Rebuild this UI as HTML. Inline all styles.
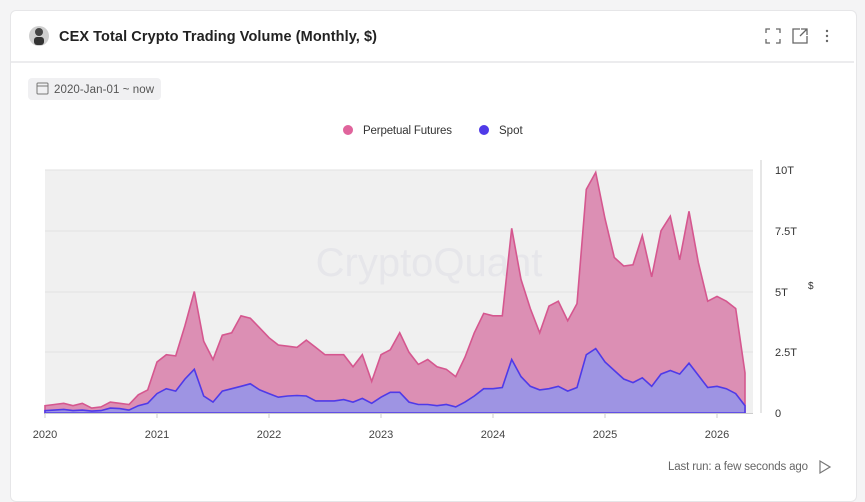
<!DOCTYPE html>
<html><head><meta charset="utf-8"><style>
body{margin:0;background:#f4f4f5;width:865px;height:492px;overflow:hidden;font-family:"Liberation Sans",sans-serif;}
.card{position:absolute;left:10px;top:10px;width:845px;height:490px;background:#fff;border:1px solid #e6e6e8;border-radius:6px;}
</style></head><body>
<div class="card"></div>
<svg width="865" height="492" style="position:absolute;left:0;top:0">
<line x1="11" y1="62" x2="854" y2="62" stroke="#ececee" stroke-width="2"/>
<circle cx="39" cy="36" r="10" fill="#cfcfcf"/><circle cx="39" cy="32" r="4" fill="#444"/><rect x="34" y="37" width="10" height="8" rx="3" fill="#333"/>
<text x="59" y="41" font-size="14.5" font-weight="bold" fill="#222" textLength="318">CEX Total Crypto Trading Volume (Monthly, $)</text>
<g stroke="#666" stroke-width="1.3" fill="none">
<path d="M766 33v-4h4M776 29h4v4M780 39v4h-4M770 43h-4v-4"/>
<path d="M800 29h-7v14h14v-7M801 29h6v6M807 29l-7 7"/>
</g>
<circle cx="827" cy="31" r="1.2" fill="#666"/><circle cx="827" cy="36" r="1.2" fill="#666"/><circle cx="827" cy="41" r="1.2" fill="#666"/>
<rect x="28" y="78" width="133" height="22" rx="4" fill="#f0f0f2"/>
<rect x="37" y="83" width="11" height="11" rx="1" fill="none" stroke="#777" stroke-width="1"/><line x1="37" y1="86" x2="48" y2="86" stroke="#777"/>
<text x="54" y="93" font-size="11.5" fill="#555" textLength="100">2020-Jan-01 ~ now</text>
<circle cx="348" cy="130" r="5" fill="#e0649c"/><text x="363" y="134" font-size="11.5" fill="#333" textLength="89">Perpetual Futures</text>
<circle cx="484" cy="130" r="5" fill="#4f3ae8"/><text x="499" y="134" font-size="11.5" fill="#333">Spot</text>
<rect x="45" y="170" width="708" height="243" fill="#f0f0f0"/>
<g stroke="#e2e2e2"><line x1="45" y1="170" x2="753" y2="170"/><line x1="45" y1="231" x2="753" y2="231"/><line x1="45" y1="292" x2="753" y2="292"/><line x1="45" y1="352" x2="753" y2="352"/></g>
<text x="429" y="276" font-size="40" fill="#e6e6ea" text-anchor="middle">CryptoQuant</text>
<path id="fut" fill="#dc8fb4" stroke="#d5578f" stroke-width="1.6"/>
<path id="spot" fill="#9e94e3" stroke="#4f3ae8" stroke-width="1.6"/>
<line x1="45" y1="413.5" x2="753" y2="413.5" stroke="#ccc"/>
<line x1="761" y1="160" x2="761" y2="413" stroke="#ccc"/>
<g font-size="11" fill="#333"><text x="775" y="174">10T</text><text x="775" y="235">7.5T</text><text x="775" y="296">5T</text><text x="775" y="356">2.5T</text><text x="775" y="417">0</text></g>
<text x="808" y="289" font-size="10" fill="#333">$</text>
<g font-size="11" fill="#444" text-anchor="middle" id="xl"></g>
<text x="668" y="470" font-size="11.5" fill="#666" textLength="140">Last run: a few seconds ago</text>
<path d="M820 461v12l10-6z" fill="none" stroke="#777" stroke-width="1.2"/>
</svg>
<script>
var f=[0.3,0.35,0.4,0.3,0.4,0.2,0.25,0.45,0.4,0.35,0.75,0.95,
2.1,2.4,2.35,3.6,5.0,2.95,2.2,3.2,3.3,4.0,3.9,3.5,
3.1,2.8,2.75,2.7,3.0,2.7,2.4,2.4,2.4,1.9,2.4,1.3,
2.4,2.6,3.3,2.5,2.0,2.2,1.9,1.8,1.5,2.3,3.3,4.1,
4.0,4.0,7.6,5.5,4.3,3.3,4.4,4.6,3.8,4.5,9.2,9.9,
8.0,6.4,6.05,6.1,7.3,5.6,7.5,8.1,6.3,8.3,6.2,4.6,
4.8,4.6,4.3,1.65];
var s=[0.1,0.12,0.15,0.1,0.12,0.08,0.1,0.2,0.18,0.12,0.3,0.4,
0.8,1.0,0.9,1.4,1.8,0.7,0.45,0.9,1.0,1.1,1.2,0.95,
0.8,0.65,0.7,0.72,0.7,0.5,0.5,0.5,0.55,0.45,0.6,0.4,
0.65,0.85,0.85,0.45,0.35,0.35,0.3,0.35,0.25,0.45,0.7,1.0,
1.0,1.05,2.2,1.5,1.1,0.95,1.0,1.1,0.9,1.05,2.4,2.65,
2.1,1.75,1.4,1.25,1.45,1.1,1.6,1.75,1.6,2.05,1.55,1.05,
1.1,1.0,0.8,0.3];
function X(i){return 45+i*112/12}function Y(v){return 413-v*24.3}
function p(a){var d="M45 413";for(var i=0;i<a.length;i++)d+="L"+X(i).toFixed(1)+" "+Y(a[i]).toFixed(1);return d+"L"+X(a.length-1).toFixed(1)+" 413Z";}
document.getElementById("fut").setAttribute("d",p(f));
document.getElementById("spot").setAttribute("d",p(s));
var g=document.getElementById("xl"),h="";
for(var y=0;y<7;y++){var x=45+y*112;h+='<line x1="'+x+'" y1="413" x2="'+x+'" y2="418" stroke="#ccc"/><text x="'+x+'" y="438">'+(2020+y)+'</text>';}
g.innerHTML=h;
</script>
</body></html>
